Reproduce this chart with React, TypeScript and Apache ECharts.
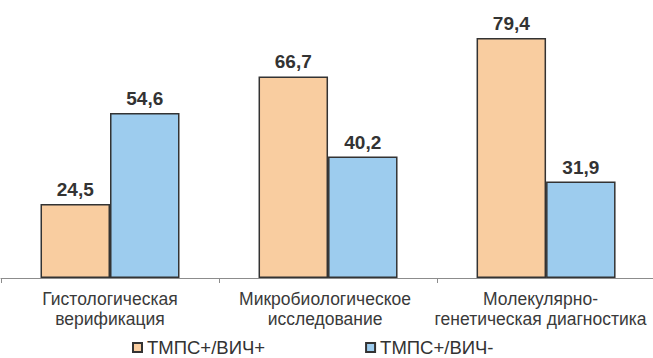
import React, { useEffect, useRef } from "react";
import * as echarts from "echarts";

const categories = [
  "Гистологическая\nверификация",
  "Микробиологическое\nисследование",
  "Молекулярно-\nгенетическая диагностика",
];
const seriesNames = ["ТМПС+/ВИЧ+", "ТМПС+/ВИЧ-"];
const hivPos = [24.5, 66.7, 79.4];
const hivNeg = [54.6, 40.2, 31.9];

const FONT = '"Liberation Sans", Arial, sans-serif';
const labelShift = [0, 6, 11];

export default function App() {
  const ref = useRef<HTMLDivElement>(null);
  useEffect(() => {
    if (!ref.current) return;
    const chart = echarts.init(ref.current, undefined, { renderer: "svg" });
    const valueLabel = {
      show: true,
      position: "top",
      distance: 5,
      fontFamily: FONT,
      fontSize: 19,
      fontWeight: "bold",
      color: "#333333",
      formatter: (p: any) => String(p.value).replace(".", ","),
    };
    const richStyle = (i: number) => ({
      fontFamily: FONT,
      fontSize: 17.5,
      lineHeight: 20,
      color: "#3a3a3a",
      padding: [0, labelShift[i], 0, 0],
    });
    chart.setOption({
      animation: false,
      textStyle: { fontFamily: FONT },
      grid: { left: 1, top: 6, width: 657, bottom: 80, containLabel: false },
      legend: {
        data: seriesNames,
        left: 127,
        top: 333,
        icon: "rect",
        itemWidth: 9,
        itemHeight: 9,
        itemGap: 100,
        textStyle: { fontFamily: FONT, fontSize: 18.5, color: "#333333" },
      },
      xAxis: {
        type: "category",
        data: categories,
        axisLine: { lineStyle: { color: "#8c8c8c", width: 1 } },
        axisTick: { show: true, length: 5, lineStyle: { color: "#8c8c8c" } },
        axisLabel: {
          margin: 11,
          fontFamily: FONT,
          fontSize: 17.5,
          lineHeight: 20,
          color: "#3a3a3a",
          interval: 0,
          formatter: (v: string, i: number) => `{s${i}|${v}}`,
          rich: { s0: richStyle(0), s1: richStyle(1), s2: richStyle(2) },
        },
      },
      yAxis: {
        type: "value",
        min: 0,
        max: 90,
        show: false,
        splitLine: { show: false },
      },
      series: [
        {
          name: seriesNames[0],
          type: "bar",
          data: hivPos,
          barWidth: 69.5,
          barGap: "0%",
          itemStyle: { color: "#F9CDA0", borderColor: "#333333", borderWidth: 1.5 },
          label: valueLabel,
        },
        {
          name: seriesNames[1],
          type: "bar",
          data: hivNeg,
          barWidth: 69.5,
          barGap: "0%",
          itemStyle: { color: "#9DCCEE", borderColor: "#333333", borderWidth: 1.5 },
          label: valueLabel,
        },
      ],
    });
    return () => chart.dispose();
  }, []);
  return (
    <div
      ref={ref}
      style={{ position: "fixed", left: 0, top: 0, width: 660, height: 358, background: "#ffffff", overflow: "hidden" }}
    />
  );
}
